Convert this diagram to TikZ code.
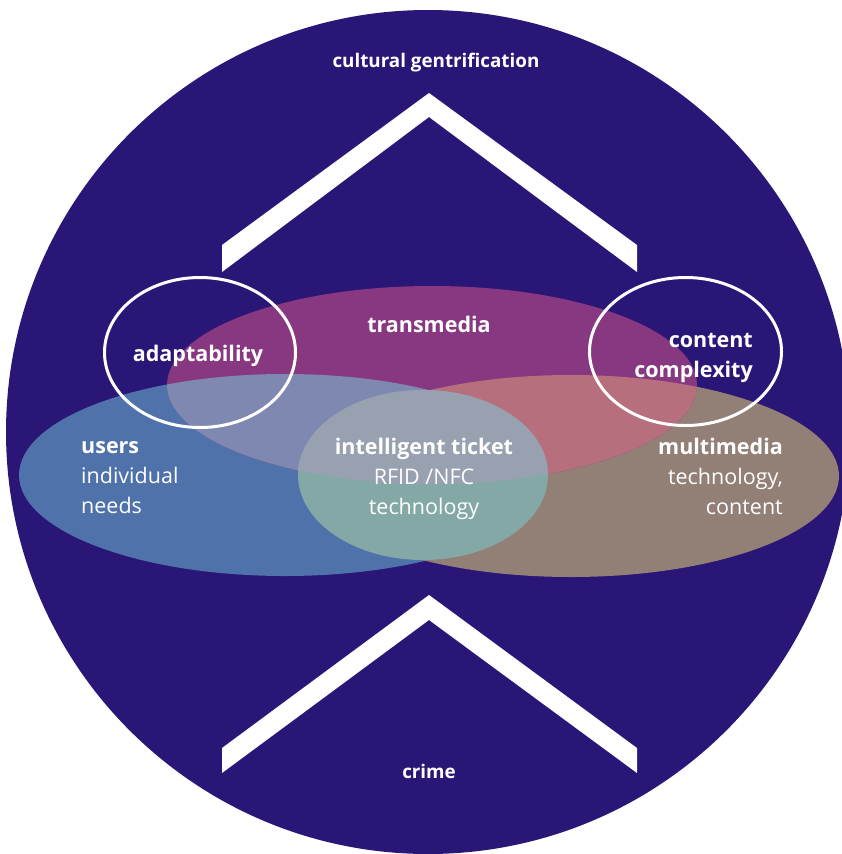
\documentclass[tikz,border=0pt]{standalone}
\usepackage{fontspec}
\setmainfont{Open Sans}

\definecolor{night}{HTML}{2A1676}
\definecolor{userblue}{HTML}{4F72AA}
\definecolor{mediabrown}{HTML}{927F76}
\definecolor{transpurple}{HTML}{873880}
\definecolor{lavender}{HTML}{7F88B0}
\definecolor{rosepink}{HTML}{B76F7D}
\definecolor{tickteal}{HTML}{84A8A6}
\definecolor{tickgrey}{HTML}{98A1B0}

% the four sets
\newcommand\usersset{(285,475) ellipse[x radius=266pt, y radius=101pt]}
\newcommand\mediaset{(571,476) ellipse[x radius=268pt, y radius=101pt]}
\newcommand\transset{(432,385) ellipse[x radius=265pt, y radius=99pt]}
\newcommand\ticketset{(423,475) ellipse[x radius=125pt, y radius=85pt]}

\begin{document}
\begin{tikzpicture}[x=1pt, y=-1pt,
    lbl/.style={text=white, inner sep=0pt, font=\fontsize{21.5}{30}\selectfont},
    hd/.style={lbl, font=\fontsize{21.5}{30}\selectfont\bfseries},
    small/.style={text=white, inner sep=0pt, font=\fontsize{18.8}{22}\selectfont\bfseries},
    ring/.style={draw=white, line width=3pt}]
  \useasboundingbox (0,0) rectangle (842,854);
  \fill[night] (428,432) circle[radius=422pt];

  % chevrons
  \fill[white] (222,245) -- (429,93) -- (637,245) -- (637,272) -- (429,117) -- (222,272) -- cycle;
  \fill[white] (222,748) -- (429,595) -- (637,748) -- (637,773) -- (429,620) -- (222,773) -- cycle;

  % sets and their overlaps
  \fill[userblue] \usersset;
  \fill[mediabrown] \mediaset;
  \fill[transpurple] \transset;
  \begin{scope}
    \clip \transset;
    \fill[lavender] \usersset;
    \fill[rosepink] \mediaset;
  \end{scope}
  \fill[tickteal] \ticketset;
  \begin{scope}
    \clip \ticketset;
    \fill[tickgrey] \transset;
  \end{scope}

  % outlined circles
  \draw[ring] (200,352.5) ellipse[x radius=95.5pt, y radius=75pt];
  \draw[ring] (685.5,351.5) ellipse[x radius=96pt, y radius=74pt];

  \node[small, anchor=base] (gentri) at (436,67) {cultural gentrification};
  \node[small, anchor=base] (crime) at (429,778) {crime};
  \node[hd, anchor=base] (transmedia) at (429,332) {transmedia};
  \node[hd, anchor=base] (adapt) at (198,361) {adaptability};
  \node[hd, anchor=base east, align=right] (complexity) at (753,377) {content\\complexity};
  \node[lbl, anchor=base west, align=left] (users) at (81,513) {\textbf{users}\\individual\\needs};
  \node[lbl, anchor=base east, align=right] (multimedia) at (783,514) {\textbf{multimedia}\\technology,\\content};
  \node[lbl, anchor=base, align=center] (ticket) at (424,514) {\textbf{intelligent ticket}\\RFID /NFC\\technology};
\end{tikzpicture}
\end{document}
